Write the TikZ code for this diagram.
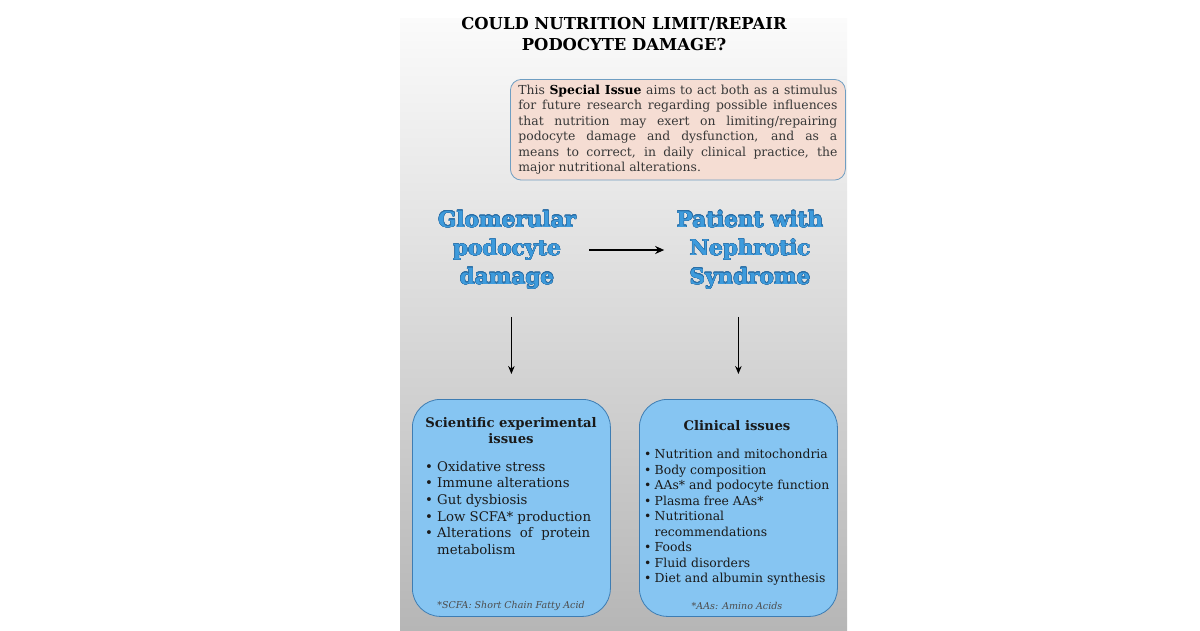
\documentclass[tikz,border=0pt]{standalone}
\usepackage{fontspec}
\setmainfont{DejaVu Serif}
\usepackage{contour}
\usetikzlibrary{arrows.meta,positioning}
\definecolor{panelTop}{HTML}{FBFBFB}
\definecolor{panelBot}{HTML}{B6B6B6}
\definecolor{noteFill}{HTML}{F5DDD3}
\definecolor{noteLine}{HTML}{6F9EC2}
\definecolor{boxFill}{HTML}{86C5F2}
\definecolor{boxLine}{HTML}{3E7DB3}
\definecolor{headBlue}{HTML}{3E9BDC}
\definecolor{headGlow}{HTML}{2A6EA6}
\definecolor{bodyText}{HTML}{1A1A1A}
\contourlength{0.35pt}
\newcommand{\hd}[1]{\contour{headGlow}{#1}}
\newcommand{\itm}[2][12pt]{\makebox[#1][l]{\textbullet}#2}

\begin{document}
\begin{tikzpicture}[
    x=1pt, y=-1pt,
    note/.style={draw=noteLine, fill=noteFill, rounded corners=11pt, line width=0.8pt, text=black!78},
    box/.style={draw=boxLine, fill=boxFill, rounded corners=28pt, line width=0.8pt, minimum width=198pt, minimum height=217pt},
    head/.style={font=\fontsize{21.5}{28.5}\selectfont\bfseries, text=headBlue, align=center},
    btitle/.style={font=\fontsize{13.2}{16}\selectfont\bfseries, text=bodyText, align=center},
    blist/.style={text=bodyText, align=left, inner sep=0pt, anchor=north west},
    foot/.style={font=\fontsize{9.5}{12}\selectfont\itshape, text=black!70},
    flow/.style={-{Stealth[length=8pt,width=6.5pt]}, line width=1.7pt}
]
    \fill[white] (0,0) rectangle (1200,630);
    \shade[top color=panelTop, bottom color=panelBot] (400,18) rectangle (847,630);

    \node[align=center, font=\fontsize{16.4}{20.5}\selectfont\bfseries] (title) at (624,34)
        {COULD NUTRITION LIMIT/REPAIR\\PODOCYTE DAMAGE?};

    \node[note, anchor=north west, text width=319pt, inner xsep=8pt, inner ysep=5.5pt, align=justify,
        font=\fontsize{12.4}{15.5}\selectfont] (aim) at (510,79)
        {\hyphenpenalty=10000 This \textbf{\color{black}Special Issue} aims to act both as a stimulus\linebreak
         for future research regarding possible influences\linebreak
         that nutrition may exert on limiting/repairing\linebreak
         podocyte damage and dysfunction, and as a\linebreak
         means to correct, in daily clinical practice, the\linebreak
         major nutritional alterations.};

    \node[head] (glom) at (507,250) {\hd{Glomerular}\\\hd{podocyte}\\\hd{damage}};
    \node[head] (pat) at (750,250) {\hd{Patient with}\\\hd{Nephrotic}\\\hd{Syndrome}};

    \node[box, anchor=north west] (sci) at (412,399) {};
    \node[box, anchor=north west] (clin) at (639,399) {};

    \draw[flow, line width=2.3pt, -{Stealth[length=9pt,width=8pt]}] ([xshift=10pt]glom.east) -- ([xshift=-9pt]pat.west);
    \draw[flow, shorten <=24pt, shorten >=25pt] (glom.south -| sci.north) -- (sci.north);
    \draw[flow, shorten <=24pt, shorten >=25pt] (pat.south -| clin.north) -- (clin.north);

    % Left box
    \node[btitle] (scit) at (511,431) {Scientific experimental\\issues};
    \node[blist, font=\fontsize{13.3}{16.6}\selectfont] (scil) at (425,461)
        {\itm{Oxidative stress}\\
         \itm{Immune alterations}\\
         \itm{Gut dysbiosis}\\
         \itm{Low SCFA* production}\\
         \itm{\makebox[153pt][s]{Alterations of protein}}\\
         \hspace*{12pt}metabolism};
    \node[foot] (scif) at (511,606) {*SCFA: Short Chain Fatty Acid};

    % Right box
    \node[btitle] (clint) at (737,426) {Clinical issues};
    \node[blist, font=\fontsize{12.4}{15.5}\selectfont] (clinl) at (644,449)
        {\itm[10.5pt]{Nutrition and mitochondria}\\
         \itm[10.5pt]{Body composition}\\
         \itm[10.5pt]{AAs* and podocyte function}\\
         \itm[10.5pt]{Plasma free AAs*}\\
         \itm[10.5pt]{Nutritional}\\
         \hspace*{10.5pt}recommendations\\
         \itm[10.5pt]{Foods}\\
         \itm[10.5pt]{Fluid disorders}\\
         \itm[10.5pt]{Diet and albumin synthesis}};
    \node[foot] (clinf) at (737,606) {*AAs: Amino Acids};
\end{tikzpicture}
\end{document}
